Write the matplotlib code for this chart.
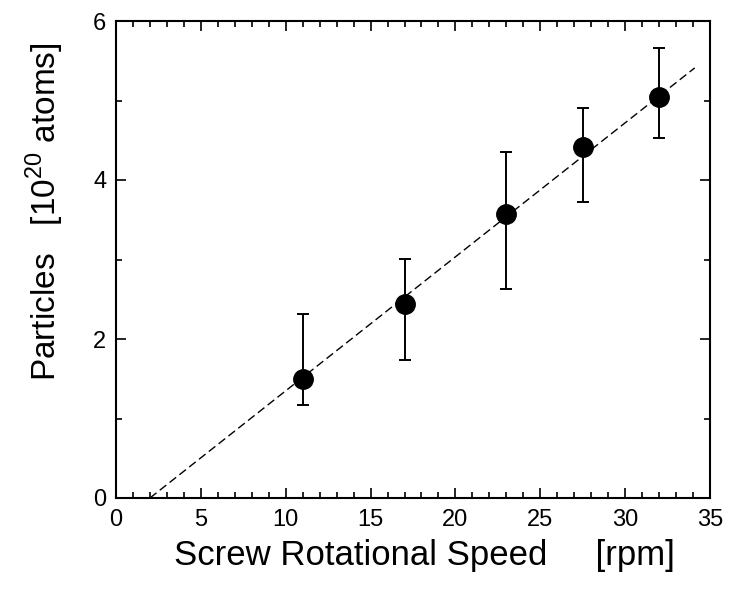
import matplotlib
matplotlib.use("Agg")
import matplotlib.pyplot as plt
from matplotlib.ticker import MultipleLocator

plt.rcParams['font.family'] = ['Liberation Sans', 'DejaVu Sans']
plt.rcParams['mathtext.fontset'] = 'custom'
plt.rcParams['mathtext.rm'] = 'Liberation Sans'

speed = [11, 17, 23, 27.5, 32]
particles = [1.50, 2.44, 3.57, 4.41, 5.04]
err_low = [1.17, 1.74, 2.63, 3.72, 4.53]
err_high = [2.31, 3.01, 4.35, 4.91, 5.66]
fit_x = [2.0, 34.1]
fit_y = [0.0, 5.41]

yerr = [[p - l for p, l in zip(particles, err_low)],
        [h - p for p, h in zip(particles, err_high)]]

fig = plt.figure(figsize=(7.32, 5.92), dpi=100)
ax = fig.add_axes([116/732, 1 - 498/592, (710-116)/732, (498-21)/592])

ax.plot(fit_x, fit_y, color='black', lw=1.0, dashes=(6, 3))
ax.errorbar(speed, particles, yerr=yerr, fmt='o', color='black', ms=14,
            ecolor='black', elinewidth=1.4, capsize=4, capthick=1.4, zorder=3)

ax.set_xlim(0, 35)
ax.set_ylim(0, 6)
ax.xaxis.set_major_locator(MultipleLocator(5))
ax.xaxis.set_minor_locator(MultipleLocator(1))
ax.yaxis.set_major_locator(MultipleLocator(2))
ax.yaxis.set_minor_locator(MultipleLocator(1))
ax.tick_params(which='both', direction='in', top=True, right=True, width=1.2,
               labelsize=17)
ax.tick_params(which='major', length=7)
ax.tick_params(axis='x', which='major', pad=8)
ax.tick_params(axis='y', which='major', pad=7)
ax.tick_params(which='minor', length=4)
for s in ax.spines.values():
    s.set_linewidth(1.5)

ax.set_xlabel('Screw Rotational Speed     [rpm]', fontsize=25)
ax.xaxis.set_label_coords(0.52, -0.085)
ax.xaxis.label.set_va('top')
ax.set_ylabel('Particles   [10$^{20}$ atoms]', fontsize=24)
ax.yaxis.set_label_coords(-0.085, 0.60)

fig.savefig('out.png', dpi=100)
